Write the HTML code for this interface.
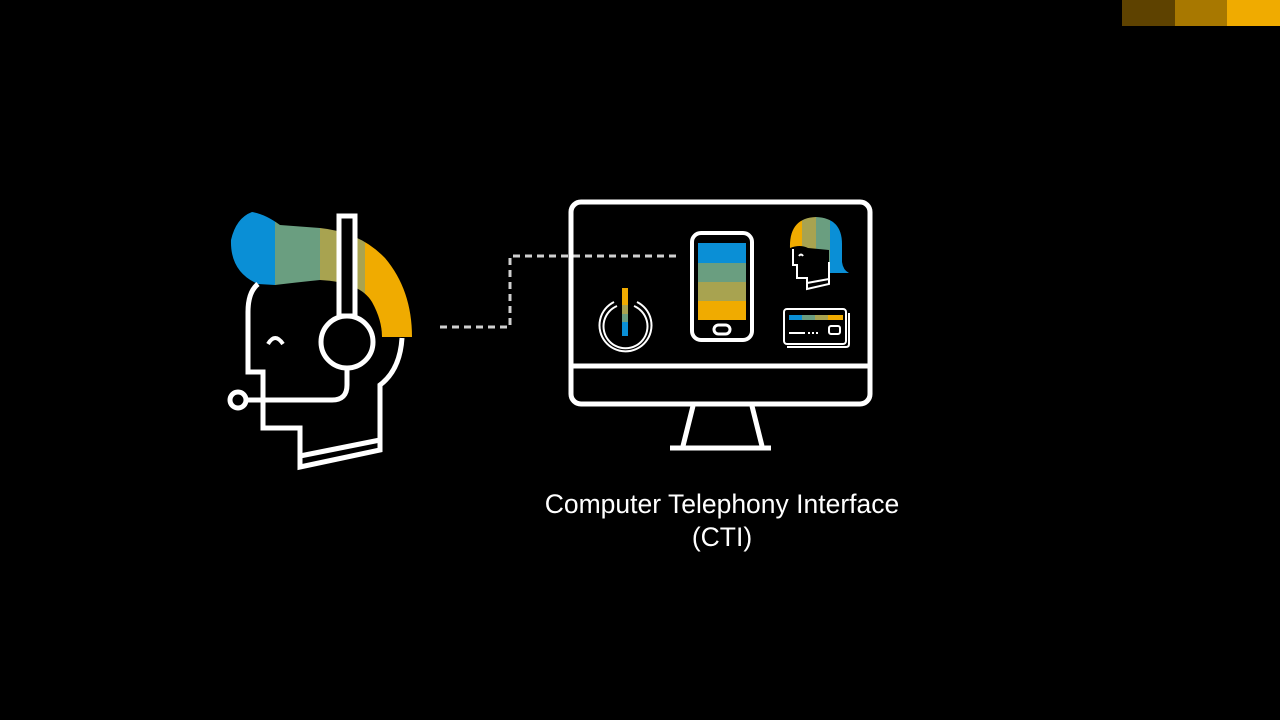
<!DOCTYPE html>
<html><head><style>
html,body{margin:0;padding:0;background:#000;width:1280px;height:720px;overflow:hidden}
.t{position:absolute;left:472px;width:500px;text-align:center;color:#fff;font-family:"Liberation Sans",sans-serif;font-size:26.5px}
</style></head><body>
<svg width="1280" height="720" style="position:absolute;left:0;top:0">
<rect x="1122" y="0" width="53" height="26" fill="#5e4200"/>
<rect x="1175" y="0" width="52" height="26" fill="#a87800"/>
<rect x="1227" y="0" width="53" height="26" fill="#f0ab00"/>
<defs><clipPath id="hc"><path d="M252,212 Q236,218 231,240 Q230,272 258,284 L275,285 Q300,282 320,280 Q360,282 372,302 Q382,320 382,337 L412,337 Q412,290 385,258 Q360,232 320,228 L280,225 Q265,214 252,212Z"/></clipPath></defs>
<g clip-path="url(#hc)">
<rect x="225" y="205" width="50" height="140" fill="#0a8fd6"/>
<rect x="275" y="205" width="45" height="140" fill="#6a9e80"/>
<rect x="320" y="205" width="45" height="140" fill="#a8a350"/>
<rect x="365" y="205" width="50" height="140" fill="#f0ab00"/>
</g>
<g fill="none" stroke="#fff" stroke-width="5" stroke-linejoin="miter">
<path d="M258,284 Q248,292 248,312 L248,372 L263,372 L263,428 L300,428 L300,467 L380,450 L380,385 Q400,370 402,338"/>
<path d="M300,456 L380,440"/>
<rect x="339" y="216" width="16" height="100" fill="#000"/>
<circle cx="347" cy="342" r="26" fill="#000"/>
<path d="M347,368 L347,385 Q347,400 332,400 L246,400"/>
<circle cx="238" cy="400" r="8"/>
<path d="M268,344 Q275,332 283,344" stroke-width="4"/>
</g>
<path d="M440,327 L510,327 L510,256 L678,256" fill="none" stroke="#d0d0d0" stroke-width="3" stroke-dasharray="7,5"/>
<g fill="none" stroke="#fff" stroke-width="5">
<rect x="571" y="202" width="299" height="202" rx="10"/>
<line x1="571" y1="366" x2="870" y2="366"/>
<path d="M693,406 L683,446 M752,406 L762,446"/>
<line x1="670" y1="448" x2="771" y2="448"/>
<rect x="692" y="233" width="60" height="107" rx="9" stroke-width="4"/>
</g>
<rect x="698" y="243" width="48" height="20" fill="#0a8fd6"/>
<rect x="698" y="263" width="48" height="19" fill="#6a9e80"/>
<rect x="698" y="282" width="48" height="19" fill="#a8a350"/>
<rect x="698" y="301" width="48" height="19" fill="#f0ab00"/>
<rect x="714" y="325" width="16" height="9" rx="4.5" fill="none" stroke="#fff" stroke-width="3"/>
<g fill="none" stroke="#fff" stroke-width="2">
<path d="M614,302 A26,26 0 1 0 637,302"/>
<path d="M617,306 A22,22 0 1 0 634,306"/>
</g>
<rect x="622" y="288" width="6" height="17" fill="#f0ab00"/>
<rect x="622" y="305" width="6" height="9" fill="#a8a350"/>
<rect x="622" y="314" width="6" height="8" fill="#6a9e80"/>
<rect x="622" y="322" width="6" height="14" fill="#0a8fd6"/>
<defs><clipPath id="wc"><path d="M790,248 Q789,218 816,217 Q842,218 842,244 L842,262 Q843,270 849,273 L829,273 L829,250 L808,248 Q800,244 790,248Z"/></clipPath></defs>
<g clip-path="url(#wc)">
<rect x="786" y="215" width="16" height="60" fill="#f0ab00"/>
<rect x="802" y="215" width="14" height="60" fill="#a8a350"/>
<rect x="816" y="215" width="14" height="60" fill="#6a9e80"/>
<rect x="830" y="215" width="20" height="60" fill="#0a8fd6"/>
</g>
<g fill="none" stroke="#fff" stroke-width="2">
<path d="M793,249 L793,265 L797,265 L797,278 L807,278 L807,289 L829,284 L829,262"/>
<path d="M807,283 L829,279"/>
<path d="M799,256 Q801,253 803,256"/>
</g>
<g fill="none" stroke="#fff" stroke-width="2">
<rect x="784" y="309" width="62" height="35" rx="3"/>
<path d="M787,347 L846,347 Q849,347 849,344 L849,313"/>
<rect x="829" y="326" width="11" height="8" rx="2"/>
<path d="M789,333 L805,333 M808,333 L810,333 M812,333 L814,333 M816,333 L818,333"/>
</g>
<rect x="789" y="315" width="13" height="5" fill="#0a8fd6"/>
<rect x="802" y="315" width="13" height="5" fill="#6a9e80"/>
<rect x="815" y="315" width="13" height="5" fill="#a8a350"/>
<rect x="828" y="315" width="15" height="5" fill="#f0ab00"/>
</svg>
<div class="t" style="top:489px">Computer Telephony Interface</div>
<div class="t" style="top:522px">(CTI)</div>
</body></html>
